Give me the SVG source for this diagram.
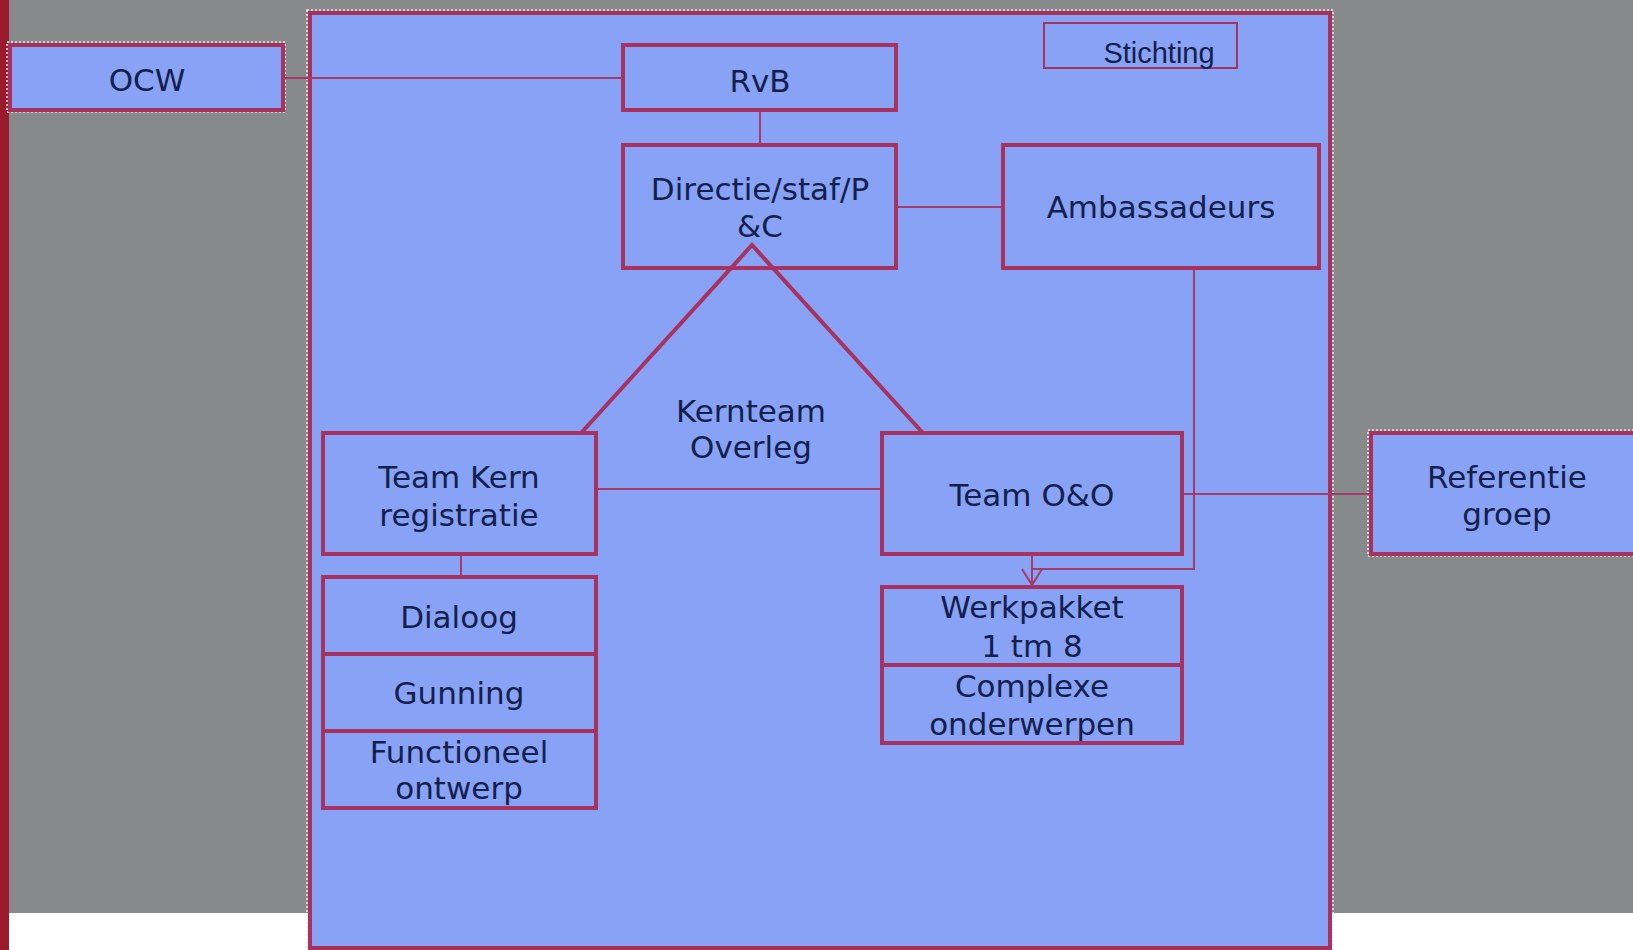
<svg xmlns="http://www.w3.org/2000/svg" width="1633" height="950" viewBox="0 0 1633 950">
<style>
.box{fill:#88a2f5;stroke:#a8325f;stroke-width:4}
.dot{fill:none;stroke:#f4e6ee;stroke-width:1.5;stroke-dasharray:2 2}
.t{font-family:"DejaVu Sans","Noto Sans",sans-serif;font-size:31px;fill:#14204c;text-anchor:middle}
.ln{fill:none;stroke:#a43a68;stroke-width:2}
.tri{fill:none;stroke:#a8325f;stroke-width:4}
</style>
<defs>
<marker id="arr" viewBox="0 0 20 24" refX="18" refY="12" markerWidth="20" markerHeight="24" markerUnits="userSpaceOnUse" orient="auto">
<path d="M2,2 L18,12 L2,22" fill="none" stroke="#a43a68" stroke-width="2"/>
</marker>
</defs>
<rect x="0" y="0" width="1633" height="950" fill="#ffffff"/>
<rect x="0" y="0" width="1633" height="913" fill="#878a8a"/>
<rect x="0" y="0" width="9" height="950" fill="#9a1a2c"/>

<g id="frame">
<rect class="dot" x="307" y="10" width="1026" height="945"/>
<rect x="310" y="13" width="1020" height="935" fill="#88a2f5" stroke="#a8325f" stroke-width="4"/>
</g>

<g id="ocw">
<rect class="dot" x="7" y="42" width="278" height="70"/>
<rect class="box" x="10" y="45" width="273" height="65"/>
<text class="t" x="147" y="91">OCW</text>
</g>

<g id="rvb">
<rect class="box" x="623" y="45" width="273" height="65"/>
<text class="t" x="760" y="92">RvB</text>
</g>

<g id="stichting">
<rect x="1044" y="23" width="193" height="45" fill="none" stroke="#a8325f" stroke-width="2"/>
<text x="1159" y="63" font-family="'Liberation Sans',Arial,sans-serif" font-size="29" fill="#14204c" text-anchor="middle">Stichting</text>
</g>

<g id="directie">
<rect class="box" x="623" y="145" width="273" height="123"/>
<text class="t" x="760" y="200">Directie/staf/P</text>
<text class="t" x="760" y="237">&amp;C</text>
</g>

<g id="ambassadeurs">
<rect class="box" x="1003" y="145" width="316" height="123"/>
<text class="t" x="1161" y="218">Ambassadeurs</text>
</g>

<g id="kernteam">
<text class="t" x="751" y="422">Kernteam</text>
<text class="t" x="751" y="458">Overleg</text>
</g>

<g id="teamkern">
<rect class="box" x="323" y="433" width="273" height="121"/>
<text class="t" x="459" y="488">Team Kern</text>
<text class="t" x="459" y="526">registratie</text>
</g>

<g id="teamoo">
<rect class="box" x="882" y="433" width="300" height="121"/>
<text class="t" x="1032" y="506">Team O&amp;O</text>
</g>

<g id="referentie">
<rect class="dot" x="1368" y="430" width="270" height="126"/>
<rect class="box" x="1371" y="433" width="266" height="121"/>
<text class="t" x="1507" y="488">Referentie</text>
<text class="t" x="1507" y="525">groep</text>
</g>

<g id="dialoog">
<rect class="box" x="323" y="577" width="273" height="77"/>
<text class="t" x="459" y="628">Dialoog</text>
</g>

<g id="gunning">
<rect class="box" x="323" y="654" width="273" height="77"/>
<text class="t" x="459" y="704">Gunning</text>
</g>

<g id="functioneel">
<rect class="box" x="323" y="731" width="273" height="77"/>
<text class="t" x="459" y="763">Functioneel</text>
<text class="t" x="459" y="799">ontwerp</text>
</g>

<g id="werkpakket">
<rect class="box" x="882" y="587" width="300" height="78"/>
<text class="t" x="1032" y="618">Werkpakket</text>
<text class="t" x="1032" y="657">1 tm  8</text>
</g>

<g id="complexe">
<rect class="box" x="882" y="665" width="300" height="78"/>
<text class="t" x="1032" y="697">Complexe</text>
<text class="t" x="1032" y="735">onderwerpen</text>
</g>

<g id="connectors">
<line class="ln" x1="285" y1="78" x2="621" y2="78"/>
<line class="ln" x1="760" y1="112" x2="760" y2="143" stroke-width="3"/>
<line class="ln" x1="898" y1="207" x2="1001" y2="207"/>
<polyline class="tri" points="582,432 752,245 922,432"/>
<line class="ln" x1="598" y1="489" x2="880" y2="489" stroke-width="3"/>
<line class="ln" x1="461" y1="556" x2="461" y2="575" stroke-width="3"/>
<line class="ln" x1="1184" y1="494" x2="1369" y2="494"/>
<polyline class="ln" points="1194,270 1194,569 1032,569"/>
<line class="ln" x1="1032" y1="556" x2="1032" y2="585" marker-end="url(#arr)"/>
</g>
</svg>
